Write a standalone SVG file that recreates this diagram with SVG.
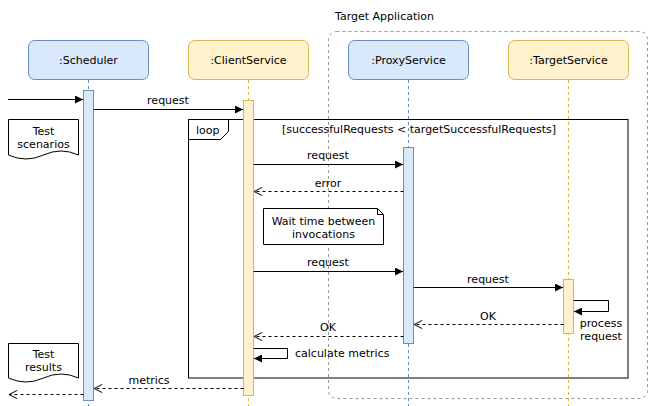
<svg xmlns="http://www.w3.org/2000/svg" width="651" height="406" viewBox="0 0 651 406">
<defs>
<style>
text{font-family:"DejaVu Sans",Verdana,sans-serif;font-size:11px;fill:#000}
.mid{text-anchor:middle}
.box-b{fill:#dae8fc;stroke:#6c8ebf;stroke-width:1}
.box-y{fill:#fff2cc;stroke:#d6b656;stroke-width:1}
.life-b{stroke:#6c8ebf;stroke-width:1;stroke-dasharray:3 3;fill:none}
.life-y{stroke:#d6b656;stroke-width:1;stroke-dasharray:3 3;fill:none}
.msg{stroke:#000;stroke-width:1;fill:none}
.ret{stroke:#000;stroke-width:1;fill:none;stroke-dasharray:3 3}
.shape{fill:#fff;stroke:#000;stroke-width:1}
</style>
<marker id="block" viewBox="0 0 10 10" refX="10" refY="5" markerWidth="8" markerHeight="8" markerUnits="userSpaceOnUse" orient="auto"><path d="M0,0 L10,5 L0,10 Z" fill="#000"/></marker>
<marker id="open" viewBox="0 0 10 10" refX="10" refY="5" markerWidth="9" markerHeight="9" markerUnits="userSpaceOnUse" orient="auto"><path d="M1,0.5 L10,5 L1,9.5" fill="none" stroke="#000" stroke-width="1.1"/></marker>
</defs>
<rect width="651" height="406" fill="#fff"/>

<g id="target-application">
<rect x="328.5" y="31.5" width="319" height="367" rx="8" fill="none" stroke="#999" stroke-dasharray="3 3"/>
<text x="335" y="20">Target Application</text>
</g>

<g id="loop-frame">
<rect x="188.5" y="119.5" width="439.5" height="258.5" fill="none" stroke="#000"/>
<path d="M188.5,119.5 H228.5 V131.5 L220.5,139.5 H188.5 Z" class="shape"/>
<text x="196" y="134">loop</text>
<text x="419" y="133" class="mid">[successfulRequests &lt; targetSuccessfulRequests]</text>
</g>

<g id="scheduler">
<path d="M88.5,80 V406" class="life-b"/>
<rect x="28.5" y="40.5" width="120" height="39" rx="6" class="box-b"/>
<text x="88.5" y="64" class="mid">:Scheduler</text>
<rect x="83.5" y="90.5" width="10" height="310" class="box-b"/>
</g>

<g id="client-service">
<path d="M248.5,80 V406" class="life-y"/>
<rect x="188.5" y="40.5" width="120" height="39" rx="6" class="box-y"/>
<text x="248.5" y="64" class="mid">:ClientService</text>
<rect x="243.5" y="100.5" width="10" height="295" class="box-y"/>
</g>

<g id="proxy-service">
<path d="M408.5,80 V406" class="life-b"/>
<rect x="348.5" y="40.5" width="120" height="39" rx="6" class="box-b"/>
<text x="408.5" y="64" class="mid">:ProxyService</text>
<rect x="403.5" y="147.5" width="10" height="196" class="box-b"/>
</g>

<g id="target-service">
<path d="M568.5,80 V406" class="life-y"/>
<rect x="508.5" y="40.5" width="120" height="39" rx="6" class="box-y"/>
<text x="568.5" y="64" class="mid">:TargetService</text>
<rect x="563.5" y="279.5" width="10" height="54" class="box-y"/>
</g>

<g id="test-scenarios">
<path d="M8.5,119.5 H78.5 V155 Q61,147 43.5,155 Q26,163 8.5,155 Z" class="shape"/>
<text x="43.5" y="135" class="mid">Test</text>
<text x="43.5" y="148" class="mid">scenarios</text>
</g>

<g id="test-results">
<path d="M8.5,343.5 H78.5 V378 Q61,370 43.5,378 Q26,386 8.5,378 Z" class="shape"/>
<text x="43.5" y="358" class="mid">Test</text>
<text x="43.5" y="370.5" class="mid">results</text>
</g>

<g id="wait-note">
<path d="M263.5,208.5 H377.5 L383.5,214.5 V244.5 H263.5 Z" class="shape"/>
<path d="M377.5,208.5 V214.5 H383.5" fill="none" stroke="#000"/>
<text x="323.5" y="224.5" class="mid">Wait time between</text>
<text x="323.5" y="237.5" class="mid">invocations</text>
</g>

<g id="connectors">
<path d="M8,99.5 H83" class="msg" marker-end="url(#block)"/>
<path d="M93.5,109.5 H243" class="msg" marker-end="url(#block)"/>
<text x="168" y="104" class="mid">request</text>

<path d="M253.5,164.5 H403" class="msg" marker-end="url(#block)"/>
<text x="328" y="159" class="mid">request</text>

<path d="M403.5,191.5 H254" class="ret" marker-end="url(#open)"/>
<text x="328" y="186.5" class="mid">error</text>

<path d="M253.5,271.5 H403" class="msg" marker-end="url(#block)"/>
<text x="328" y="266" class="mid">request</text>

<path d="M413.5,287.5 H563" class="msg" marker-end="url(#block)"/>
<text x="488" y="282.5" class="mid">request</text>

<path d="M573.5,300.5 H608.5 V311.5 H574" class="msg" marker-end="url(#block)"/>
<text x="601" y="327" class="mid">process</text>
<text x="601" y="340" class="mid">request</text>

<path d="M563.5,324.5 H414" class="ret" marker-end="url(#open)"/>
<text x="488" y="319.5" class="mid">OK</text>

<path d="M403.5,336.5 H254" class="ret" marker-end="url(#open)"/>
<text x="328" y="330.5" class="mid">OK</text>

<path d="M253.5,348.5 H287.5 V358.5 H254" class="msg" marker-end="url(#block)"/>
<text x="295" y="356.5">calculate metrics</text>

<path d="M243.5,388.5 H94" class="ret" marker-end="url(#open)"/>
<text x="149" y="383.5" class="mid">metrics</text>

<path d="M83.5,394.5 H9" class="ret" marker-end="url(#open)"/>
</g>
</svg>
